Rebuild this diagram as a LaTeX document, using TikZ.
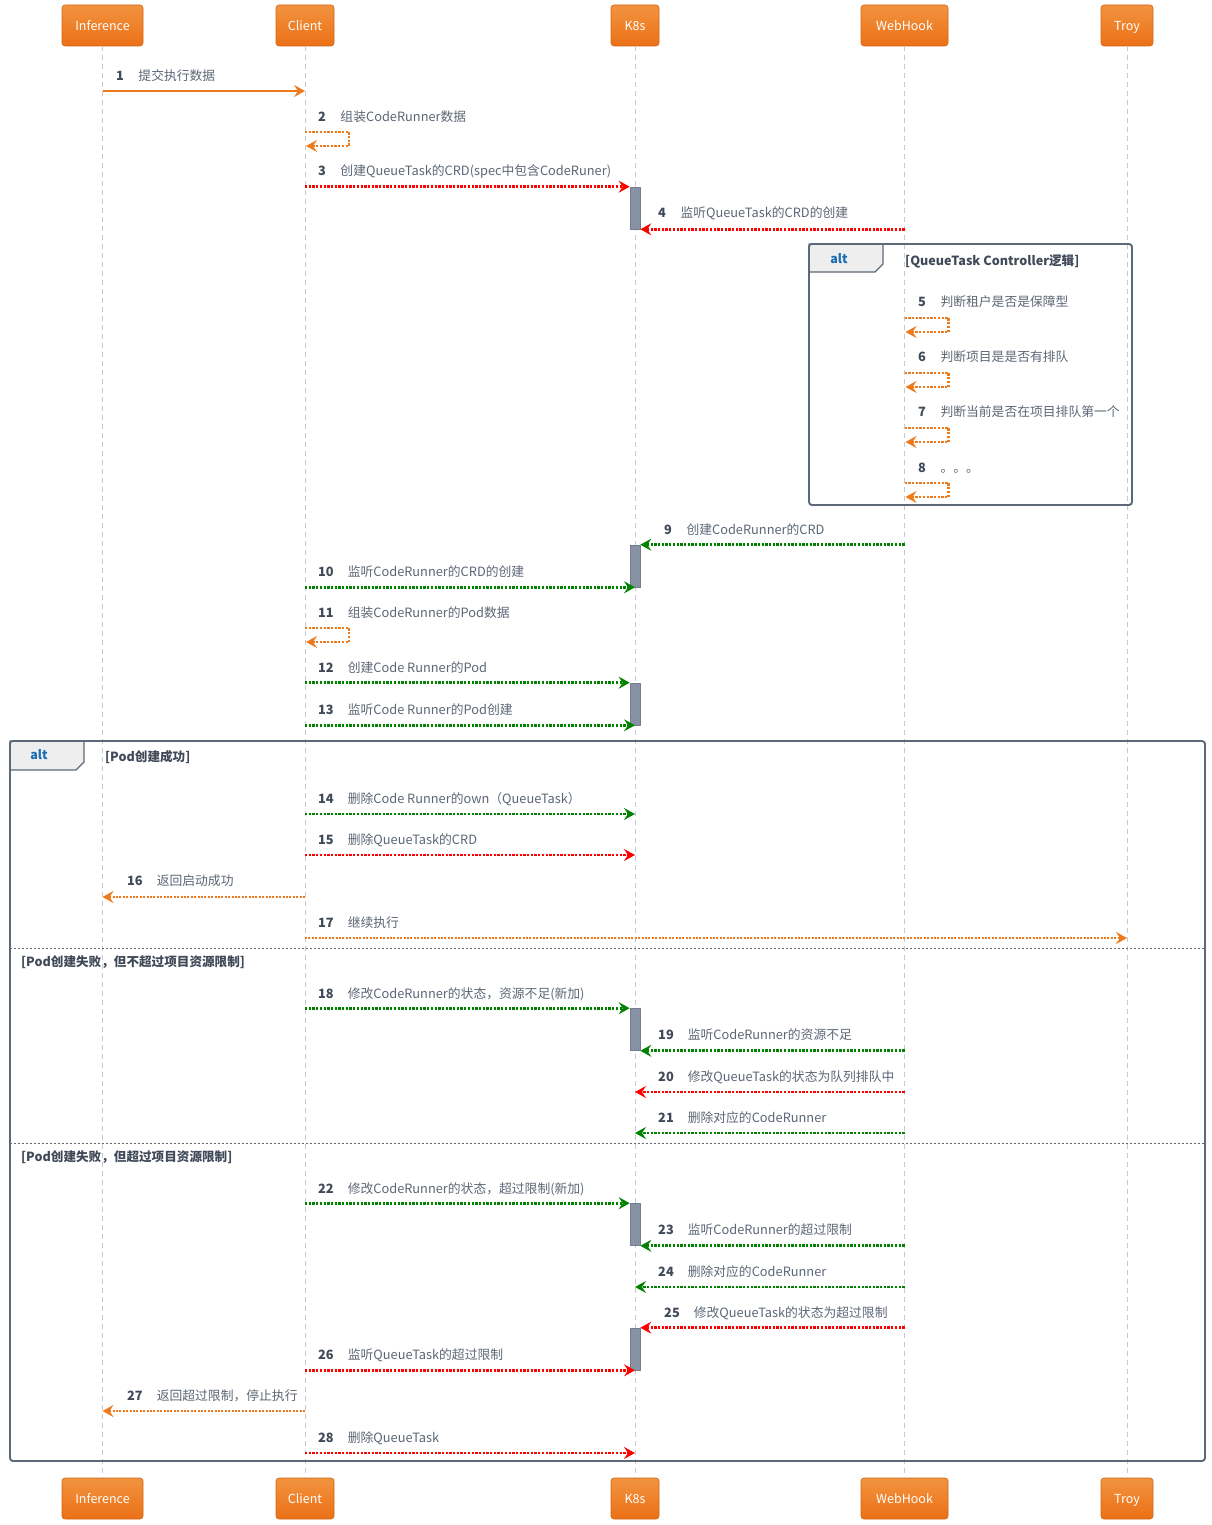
\documentclass[tikz,border=0pt]{standalone}
\usepackage{fontspec}
\setmainfont{Noto Sans CJK SC}
\usetikzlibrary{arrows.meta}

\definecolor{headtop}{HTML}{F2933F}
\definecolor{headbot}{HTML}{EB7016}
\definecolor{msgorange}{HTML}{EE7A1C}
\definecolor{msgred}{HTML}{FF0000}
\definecolor{msggreen}{HTML}{008200}
\definecolor{lblgray}{HTML}{5C6675}
\definecolor{numgray}{HTML}{404957}
\definecolor{framegray}{HTML}{5D6977}
\definecolor{bargray}{HTML}{8793A5}
\definecolor{altblue}{HTML}{1A6DB3}
\definecolor{tabfill}{HTML}{EEEEEE}
\definecolor{lifegray}{HTML}{C5CAD1}

\tikzset{
  head/.style={draw=headbot!90!black, line width=0.6pt, rounded corners=3pt,
    top color=headtop, bottom color=headbot, text=white, minimum height=41pt,
    inner sep=0pt, text height=10.5pt, text depth=1pt, font=\fontsize{12.5}{14}\selectfont},
  lifeline/.style={lifegray, line width=1pt, dash pattern=on 5pt off 4pt},
  tipx/.style={-{Stealth[length=11pt,width=12pt,inset=4pt]}},
  solidmsg/.style={tipx, line width=2.2pt},
  dotmsg/.style={tipx, line width=2.8pt, dash pattern=on 2.3pt off 1.4pt},
  thinmsg/.style={tipx, line width=2.1pt, dash pattern=on 2pt off 1.4pt},
  lbl/.style={anchor=west, inner sep=0pt, text=lblgray, font=\fontsize{12.8}{15}\selectfont},
  guard/.style={anchor=west, inner sep=0pt, text=numgray, font=\fontsize{12.6}{15}\selectfont\bfseries},
  frame/.style={framegray, line width=1.6pt, rounded corners=3pt},
  tab/.style={fill=tabfill, draw=framegray, line width=1.2pt},
  sep/.style={framegray, line width=0.9pt, dash pattern=on 2pt off 2pt},
  bar/.style={draw=bargray!85!black, fill=bargray, line width=0.6pt,
    minimum width=10pt, minimum height=42pt, inner sep=0pt}
}

\begin{document}
\begin{tikzpicture}[x=1pt,y=-1pt,line join=round]
\useasboundingbox (0,0) rectangle (1211,1525);

%participants
\node[head, minimum width=81pt] (infT) at (102.5,25.5) {Inference};
\node[head, minimum width=58pt] (cliT) at (305,25.5) {Client};
\node[head, minimum width=48pt] (k8sT) at (635,25.5) {K8s};
\node[head, minimum width=87pt] (webT) at (904.5,25.5) {WebHook};
\node[head, minimum width=52pt] (troyT) at (1127,25.5) {Troy};

\node[head, minimum width=81pt] (infB) at (102.5,1498.5) {Inference};
\node[head, minimum width=58pt] (cliB) at (305,1498.5) {Client};
\node[head, minimum width=48pt] (k8sB) at (635,1498.5) {K8s};
\node[head, minimum width=87pt] (webB) at (904.5,1498.5) {WebHook};
\node[head, minimum width=52pt] (troyB) at (1127,1498.5) {Troy};

%lifelines
\draw[lifeline] (infT.south) -- (infB.north);
\draw[lifeline] (cliT.south) -- (cliB.north);
\draw[lifeline] (k8sT.south) -- (k8sB.north);
\draw[lifeline] (webT.south) -- (webB.north);
\draw[lifeline] (troyT.south) -- (troyB.north);

%alt frames
\draw[frame] (809,244) rectangle (1132,505);
\draw[tab] (809,244) -- (883,244) -- (883,264) -- (875,272) -- (809,272) -- cycle;
\draw[frame] (809,244) rectangle (1132,505);
\node[inner sep=0pt, text=altblue, font=\fontsize{12.5}{14}\selectfont\bfseries] (alt1) at (839,259) {alt};
\node[guard] (g1) at (905,261) {[QueueTask Controller逻辑]};

\draw[frame] (10,741) rectangle (1205,1461);
\draw[tab] (10,741) -- (84,741) -- (84,762) -- (76,770) -- (10,770) -- cycle;
\draw[frame] (10,741) rectangle (1205,1461);
\node[inner sep=0pt, text=altblue, font=\fontsize{12.5}{14}\selectfont\bfseries] (alt2) at (39,755) {alt};
\node[guard] (g2) at (105,757) {[Pod创建成功]};
\draw[sep] (10,948) -- (1205,948);
\node[guard] (g3) at (21,962) {[Pod创建失败，但不超过项目资源限制]};
\draw[sep] (10,1143) -- (1205,1143);
\node[guard] (g4) at (21,1157) {[Pod创建失败，但超过项目资源限制]};

%activations
\node[bar] (bar1) at (635,208) {};
\node[bar] (bar2) at (635,566) {};
\node[bar] (bar3) at (635,704) {};
\node[bar] (bar4) at (635,1029.5) {};
\node[bar] (bar5) at (635,1224.5) {};
\node[bar] (bar6) at (635,1349) {};

%messages
\node[lbl] (l1) at (116,76) {\textbf{\color{numgray}1}\hspace{14.5pt}提交执行数据};
\draw[solidmsg, msgorange] (infT |- 0,91) -- (cliT |- 0,91);

\node[lbl] (l2) at (318,117) {\textbf{\color{numgray}2}\hspace{14.5pt}组装CodeRunner数据};
\draw[dotmsg, msgorange, line width=2.4pt] (cliT |- 0,132) -- ++(44,0) -- ++(0,14) -- ++(-43,0);

\node[lbl] (l3) at (318,172) {\textbf{\color{numgray}3}\hspace{14.5pt}创建QueueTask的CRD(spec中包含CodeRuner)};
\draw[dotmsg, msgred] (cliT |- bar1.north west) -- (bar1.north west);

\node[lbl] (l4) at (658,213) {\textbf{\color{numgray}4}\hspace{14.5pt}监听QueueTask的CRD的创建};
\draw[dotmsg, msgred] (webT |- bar1.south east) -- (bar1.south east);

\node[lbl] (l5) at (918,302) {\textbf{\color{numgray}5}\hspace{14.5pt}判断租户是否是保障型};
\draw[dotmsg, msgorange, line width=2.4pt] (webT |- 0,318) -- ++(44,0) -- ++(0,14) -- ++(-43,0);

\node[lbl] (l6) at (918,357) {\textbf{\color{numgray}6}\hspace{14.5pt}判断项目是是否有排队};
\draw[dotmsg, msgorange, line width=2.4pt] (webT |- 0,373) -- ++(44,0) -- ++(0,14) -- ++(-43,0);

\node[lbl] (l7) at (918,412) {\textbf{\color{numgray}7}\hspace{14.5pt}判断当前是否在项目排队第一个};
\draw[dotmsg, msgorange, line width=2.4pt] (webT |- 0,428) -- ++(44,0) -- ++(0,14) -- ++(-43,0);

\node[lbl] (l8) at (918,468) {\textbf{\color{numgray}8}\hspace{14.5pt}。。。};
\draw[dotmsg, msgorange, line width=2.4pt] (webT |- 0,483) -- ++(44,0) -- ++(0,14) -- ++(-43,0);

\node[lbl] (l9) at (664,530) {\textbf{\color{numgray}9}\hspace{14.5pt}创建CodeRunner的CRD};
\draw[dotmsg, msggreen] (webT |- bar2.north east) -- (bar2.north east);

\node[lbl] (l10) at (318,572) {\textbf{\color{numgray}10}\hspace{14pt}监听CodeRunner的CRD的创建};
\draw[dotmsg, msggreen] (cliT |- bar2.south) -- (bar2.south);

\node[lbl] (l11) at (318,613) {\textbf{\color{numgray}11}\hspace{14pt}组装CodeRunner的Pod数据};
\draw[dotmsg, msgorange, line width=2.4pt] (cliT |- 0,628) -- ++(44,0) -- ++(0,14) -- ++(-43,0);

\node[lbl] (l12) at (318,668) {\textbf{\color{numgray}12}\hspace{14pt}创建Code Runner的Pod};
\draw[dotmsg, msggreen] (cliT |- bar3.north west) -- (bar3.north west);

\node[lbl] (l13) at (318,710) {\textbf{\color{numgray}13}\hspace{14pt}监听Code Runner的Pod创建};
\draw[dotmsg, msggreen] (cliT |- bar3.south) -- (bar3.south);

\node[lbl] (l14) at (318,799) {\textbf{\color{numgray}14}\hspace{14pt}删除Code Runner的own（QueueTask）};
\draw[dotmsg, msggreen] (cliT |- 0,814) -- (k8sT |- 0,814);

\node[lbl] (l15) at (318,840) {\textbf{\color{numgray}15}\hspace{14pt}删除QueueTask的CRD};
\draw[dotmsg, msgred] (cliT |- 0,855) -- (k8sT |- 0,855);

\node[lbl] (l16) at (127,881) {\textbf{\color{numgray}16}\hspace{14pt}返回启动成功};
\draw[thinmsg, msgorange] (cliT |- 0,897) -- (infT |- 0,897);

\node[lbl] (l17) at (318,923) {\textbf{\color{numgray}17}\hspace{14pt}继续执行};
\draw[thinmsg, msgorange] (cliT |- 0,938) -- (troyT |- 0,938);

\node[lbl] (l18) at (318,994) {\textbf{\color{numgray}18}\hspace{14pt}修改CodeRunner的状态，资源不足(新加)};
\draw[dotmsg, msggreen] (cliT |- bar4.north west) -- (bar4.north west);

\node[lbl] (l19) at (658,1035) {\textbf{\color{numgray}19}\hspace{14pt}监听CodeRunner的资源不足};
\draw[dotmsg, msggreen] (webT |- bar4.south east) -- (bar4.south east);

\node[lbl] (l20) at (658,1077) {\textbf{\color{numgray}20}\hspace{14pt}修改QueueTask的状态为队列排队中};
\draw[dotmsg, msgred] (webT |- 0,1092) -- (k8sT |- 0,1092);

\node[lbl] (l21) at (658,1118) {\textbf{\color{numgray}21}\hspace{14pt}删除对应的CodeRunner};
\draw[dotmsg, msggreen] (webT |- 0,1133) -- (k8sT |- 0,1133);

\node[lbl] (l22) at (318,1189) {\textbf{\color{numgray}22}\hspace{14pt}修改CodeRunner的状态，超过限制(新加)};
\draw[dotmsg, msggreen] (cliT |- bar5.north west) -- (bar5.north west);

\node[lbl] (l23) at (658,1230) {\textbf{\color{numgray}23}\hspace{14pt}监听CodeRunner的超过限制};
\draw[dotmsg, msggreen] (webT |- bar5.south east) -- (bar5.south east);

\node[lbl] (l24) at (658,1272) {\textbf{\color{numgray}24}\hspace{14pt}删除对应的CodeRunner};
\draw[dotmsg, msggreen] (webT |- 0,1287) -- (k8sT |- 0,1287);

\node[lbl] (l25) at (664,1313) {\textbf{\color{numgray}25}\hspace{14pt}修改QueueTask的状态为超过限制};
\draw[dotmsg, msgred] (webT |- bar6.north east) -- (bar6.north east);

\node[lbl] (l26) at (318,1355) {\textbf{\color{numgray}26}\hspace{14pt}监听QueueTask的超过限制};
\draw[dotmsg, msgred] (cliT |- bar6.south) -- (bar6.south);

\node[lbl] (l27) at (127,1396) {\textbf{\color{numgray}27}\hspace{14pt}返回超过限制，停止执行};
\draw[thinmsg, msgorange] (cliT |- 0,1411) -- (infT |- 0,1411);

\node[lbl] (l28) at (318,1438) {\textbf{\color{numgray}28}\hspace{14pt}删除QueueTask};
\draw[dotmsg, msgred] (cliT |- 0,1453) -- (k8sT |- 0,1453);

\end{tikzpicture}
\end{document}
